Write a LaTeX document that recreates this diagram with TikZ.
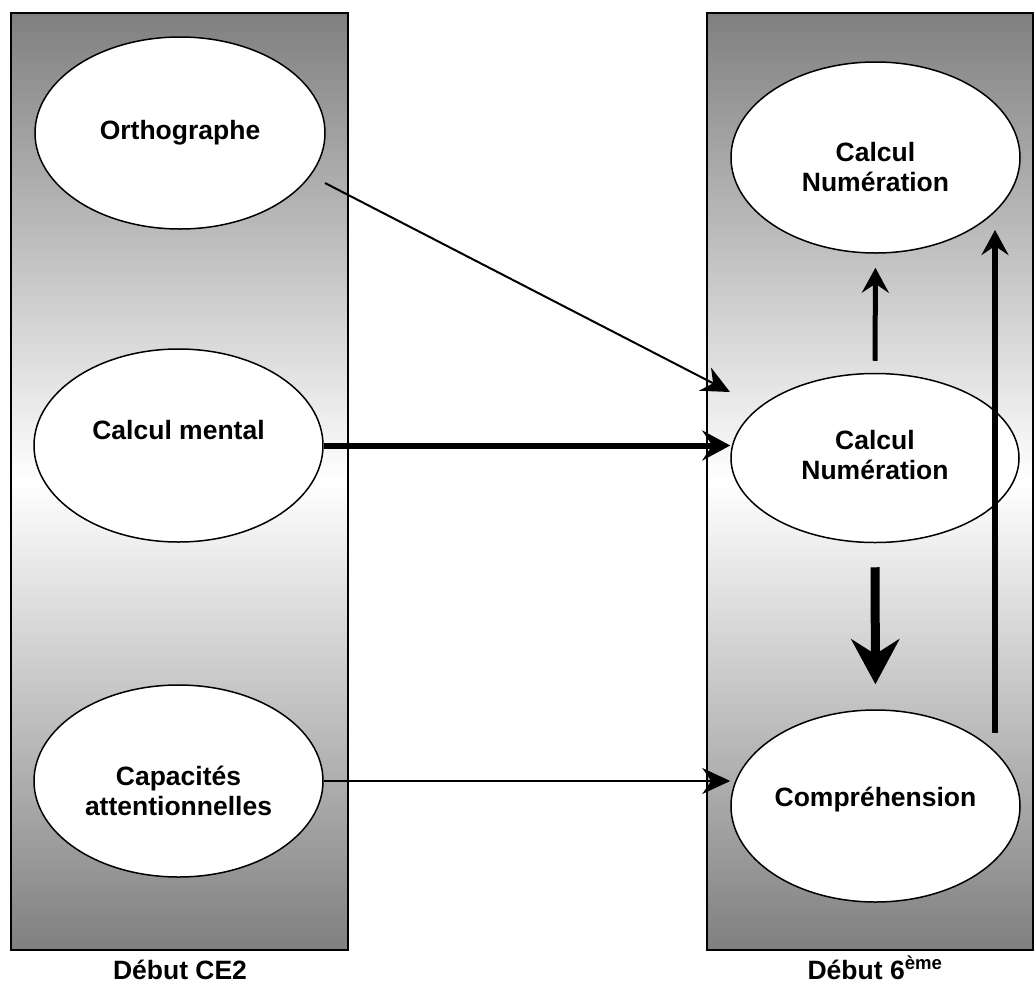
\documentclass[tikz,border=0pt]{standalone}
\usepackage{fontspec}
\setmainfont{Liberation Sans}
\usetikzlibrary{shapes.geometric,arrows.meta}
\begin{document}
\begin{tikzpicture}[x=1pt,y=-1pt,
  panel/.style={draw=black,line width=2pt,top color=gray,bottom color=gray,middle color=white},
  bub/.style={ellipse,draw=black,line width=1.5pt,fill=white,inner sep=0pt},
  lbl/.style={font=\fontsize{26.5}{30}\selectfont\bfseries,align=center,inner sep=0pt},
  thinarrow/.style={line width=2pt,-{Stealth[length=28pt,width=26pt,inset=9pt]}},
  thickarrow/.style={line width=6pt,-{Stealth[length=28pt,width=30pt,inset=10pt]}},
  medarrow/.style={line width=5pt,-{Stealth[length=25pt,width=27pt,inset=9pt]}},
  bigarrow/.style={line width=9pt,-{Stealth[length=45pt,width=48pt,inset=15pt]}}
]
\useasboundingbox (0,0) rectangle (1034,983);

% panels
\path[panel] (11,13) rectangle (348,950);
\path[panel] (707,13) rectangle (1033,950);

% ellipses
\node[bub,minimum width=290pt,minimum height=192pt] (ortho) at (180,133) {};
\node[bub,minimum width=289pt,minimum height=193pt] (cm) at (178.5,445.5) {};
\node[bub,minimum width=289pt,minimum height=192pt] (cap) at (178.5,781) {};
\node[bub,minimum width=289pt,minimum height=191pt] (cn1) at (875.5,157.5) {};
\node[bub,minimum width=288pt,minimum height=169pt] (cn2) at (875,458) {};
\node[bub,minimum width=289pt,minimum height=192pt] (comp) at (875.5,806) {};

% texts
\node[lbl] (orthot) at (180,133) {Orthographe};
\node[lbl] (cmt) at (178.5,430) {Calcul mental};
\node[lbl] (capt) at (178.5,791) {Capacités\\attentionnelles};
\node[lbl] (cn1t) at (875.5,167) {Calcul\\Numération};
\node[lbl] (cn2t) at (875,455) {Calcul\\Numération};
\node[lbl] (compt) at (875.5,800) {Compréhension};

\node[lbl,anchor=base] (lab1) at (180,979) {Début CE2};
\node[lbl,anchor=base] (lab2) at (875,979) {Début 6\textsuperscript{ème}};

% connectors
\coordinate (oS) at (325,183);
\coordinate (oE) at (730,392);
\draw[thinarrow] (oS) -- (oE);
\draw[thickarrow] (cm.east) -- (cn2.west |- cm.east);
\draw[thinarrow] (cap.east) -- (comp.west |- cap.east);
\draw[medarrow,shorten <=12pt,shorten >=14pt] (cn2.north) -- (cn1.south);
\draw[bigarrow,shorten <=24pt,shorten >=25pt] (cn2.south) -- (comp.north);
\coordinate (lS) at (995,733);
\coordinate (lE) at (995,230);
\draw[medarrow,line width=6pt] (lS) -- (lE);
\end{tikzpicture}
\end{document}
